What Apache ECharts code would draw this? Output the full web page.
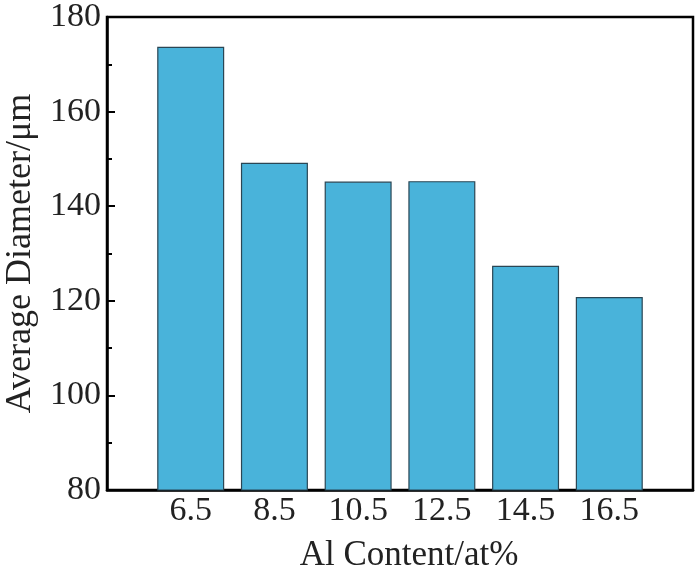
<!DOCTYPE html>
<html>
<head>
<meta charset="utf-8">
<script src="https://cdn.jsdelivr.net/npm/echarts@6/dist/echarts.min.js"></script>
<style>
  html, body { margin: 0; padding: 0; background: #fff; }
  #chart { width: 696px; height: 581px; }
</style>
</head>
<body>
<div id="chart"></div>
<script>
const categories = ['6.5', '8.5', '10.5', '12.5', '14.5', '16.5'];
const diameters = [173.7, 149.2, 145.2, 145.3, 127.4, 120.8];
const yTicks = [80, 100, 120, 140, 160, 180];

const font = 'Liberation Serif, Times New Roman, serif';

const barData = categories.map((c, i) => [parseFloat(c), diameters[i]]);

const chart = echarts.init(document.getElementById('chart'));
chart.setOption({
  animation: false,
  backgroundColor: '#fff',
  grid: {
    left: 107, right: 3, top: 17, bottom: 91,
    outerBoundsMode: 'none',
    containLabel: false,
    show: true, borderColor: '#000', borderWidth: 2.5, backgroundColor: 'transparent'
  },
  xAxis: {
    type: 'value',
    min: 4.5,
    max: 18.5,
    name: 'Al Content/at%',
    nameLocation: 'middle',
    nameGap: 48,
    nameTextStyle: { fontFamily: font, fontSize: 35, color: '#222', padding: [0, 0, 0, 18] },
    axisLine: { show: true, onZero: false, lineStyle: { color: '#000', width: 2.5 } },
    axisTick: { show: false },
    splitLine: { show: false },
    axisLabel: {
      customValues: categories.map(Number),
      formatter: v => categories.find(c => Number(c) === v) || '',
      fontFamily: font, fontSize: 34, color: '#222', margin: 4
    }
  },
  yAxis: {
    type: 'value',
    min: yTicks[0],
    max: yTicks[yTicks.length - 1],
    interval: 20,
    name: 'Average Diameter/\u03bcm',
    nameLocation: 'middle',
    nameGap: 68,
    nameTextStyle: { fontFamily: font, fontSize: 36, color: '#222' },
    axisLine: { show: true, lineStyle: { color: '#000', width: 2.5 } },
    axisTick: { show: true, inside: true, length: 8, lineStyle: { color: '#000', width: 2 } },
    minorTick: { show: true, splitNumber: 2, length: 5, lineStyle: { color: '#000', width: 2 } },
    splitLine: { show: false },
    axisLabel: { fontFamily: font, fontSize: 34, color: '#222', margin: 6 }
  },
  series: [{
    type: 'bar',
    data: barData,
    barWidth: 67,
    itemStyle: { color: '#49b3da', borderColor: '#2a4654', borderWidth: 1.2 }
  }]
});
</script>
</body>
</html>
